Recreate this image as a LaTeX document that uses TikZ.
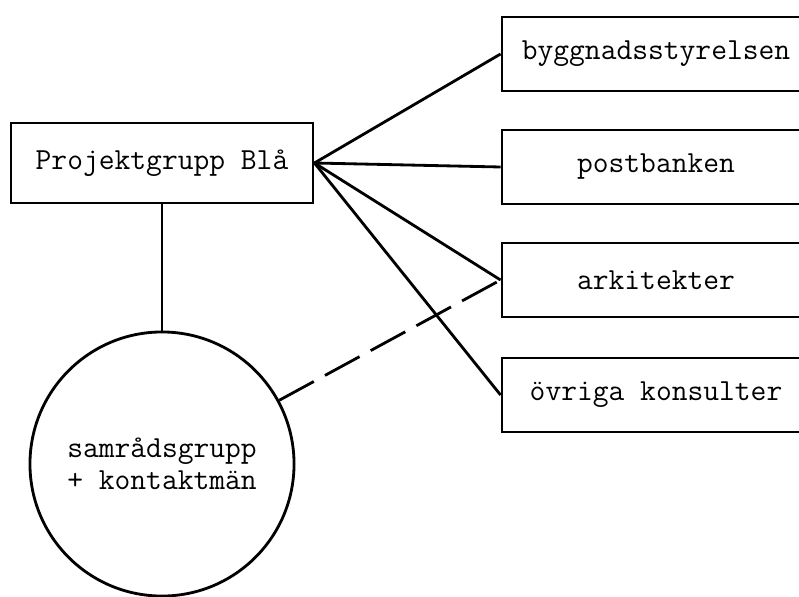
\documentclass[tikz,border=0pt]{standalone}
\usepackage{fontspec}
\begin{document}
\begin{tikzpicture}[
  x=0.025cm, y=-0.025cm,
  every node/.style={draw, line width=2pt, inner sep=0pt,
    font=\ttfamily\fontsize{21.8}{23}\selectfont},
  box/.style={minimum height=1.85cm},
  leftbox/.style={minimum width=7.55cm, minimum height=2cm},
  rightbox/.style={minimum width=7.7cm},
  group/.style={circle, minimum size=6.6cm, align=left},
  link/.style={line width=2pt},
  loose/.style={link, dash pattern=on 28pt off 9pt}
]
\useasboundingbox (0,0) rectangle (799,596);
\node[box, leftbox] (projekt) at (162,163) {Projektgrupp Blå};
\node[box, rightbox] (bygg) at (656,54) {byggnadsstyrelsen};
\node[box, rightbox] (post) at (656,167) {postbanken};
\node[box, rightbox] (arkitekt) at (656,280) {arkitekter};
\node[box, rightbox] (konsult) at (656,395) {övriga konsulter};
\node[group] (samrad) at (162,464) {samrådsgrupp\\+ kontaktmän};
\draw[link] (projekt.east) -- (bygg.west);
\draw[link] (projekt.east) -- (post.west);
\draw[link] (projekt.east) -- (arkitekt.west);
\draw[link] (projekt.east) -- (konsult.west);
\draw[link] (projekt) -- (samrad);
\draw[loose] (samrad) -- (arkitekt.west);
\end{tikzpicture}
\end{document}
